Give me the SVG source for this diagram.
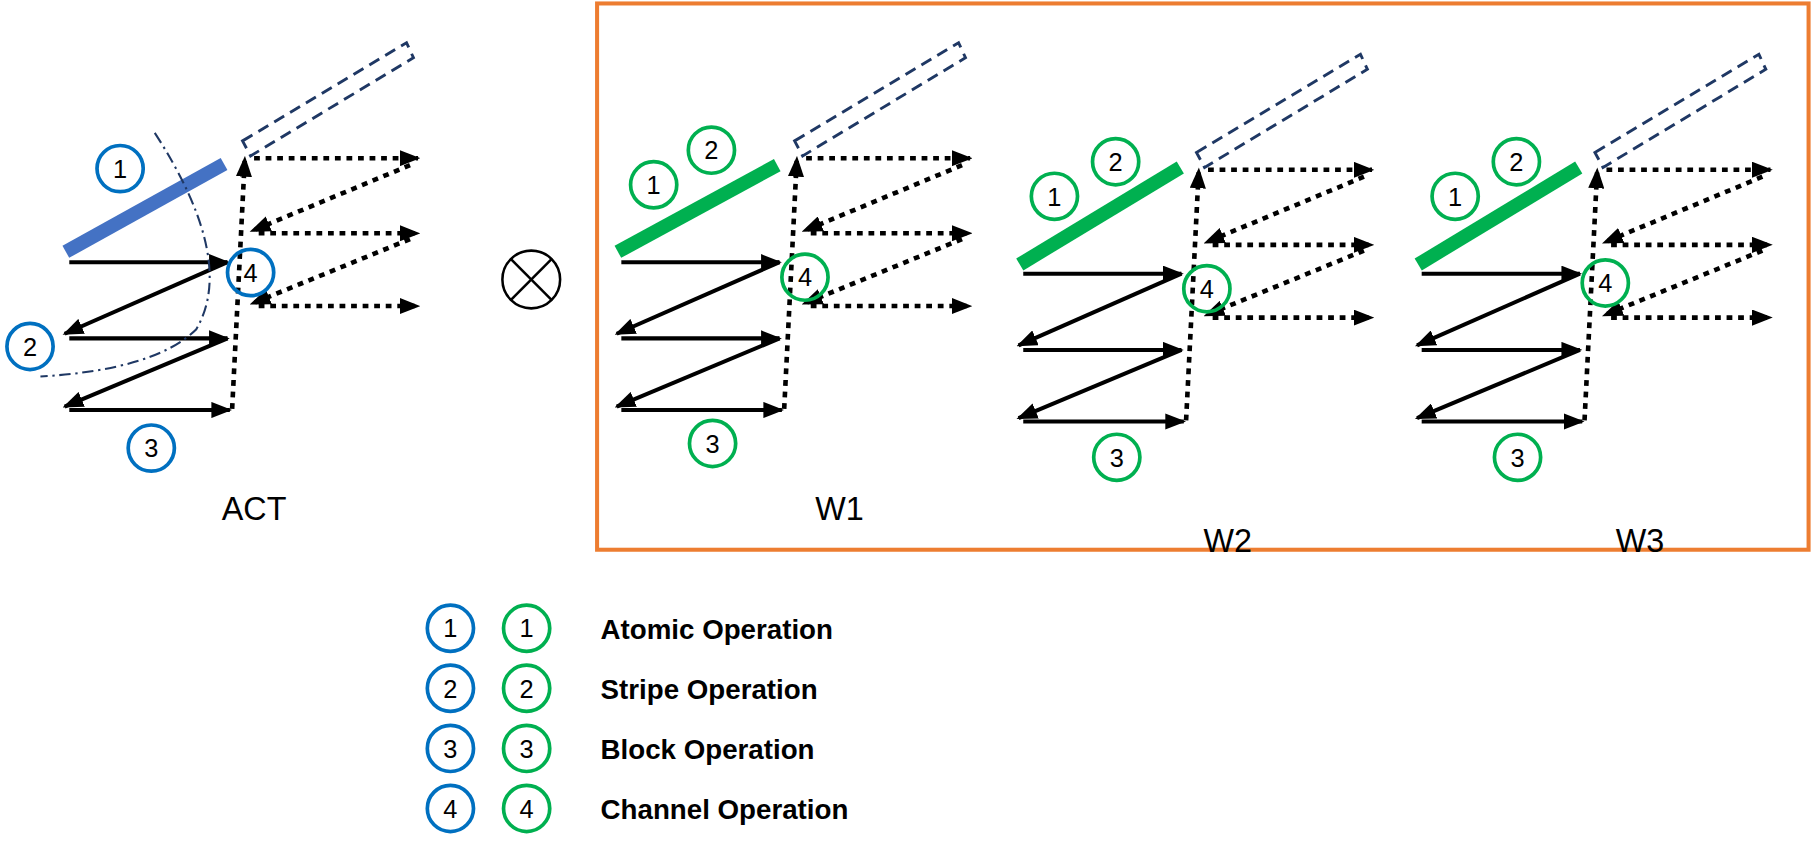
<svg xmlns="http://www.w3.org/2000/svg" xmlns:xlink="http://www.w3.org/1999/xlink" width="1812" height="856" viewBox="0 0 1812 856">
<style>
.solid{stroke:#000;stroke-width:3.5;fill:none}
.dot{stroke:#000;stroke-width:4;stroke-dasharray:5 5;fill:none}
.dash{stroke:#1F3864;stroke-width:2.5;stroke-dasharray:10 6;fill:none}
.cb{fill:none;stroke:#0070C0;stroke-width:3.2}
.cg{fill:none;stroke:#00B050;stroke-width:3.2}
.n{font-family:"Liberation Sans",Arial,sans-serif;font-size:22px;text-anchor:middle;fill:#000}
.lbl{font-family:"Liberation Sans",Arial,sans-serif;font-size:28px;text-anchor:middle;fill:#000}
.leg{font-family:"Liberation Sans",Arial,sans-serif;font-size:24px;font-weight:bold;fill:#000}
</style>
<defs>
<marker id="ah" markerUnits="userSpaceOnUse" markerWidth="18" markerHeight="14" refX="16" refY="7" orient="auto"><path d="M0,0 L18,7 L0,14 z" fill="#000"/></marker>
<g id="tpl">
<g class="connectors">
<path class="solid" marker-end="url(#ah)" d="M60,227 H197"/>
<path class="solid" marker-end="url(#ah)" d="M197,227 L56,289"/>
<path class="solid" marker-end="url(#ah)" d="M60,293 H197"/>
<path class="solid" marker-end="url(#ah)" d="M197,293 L56,352"/>
<path class="solid" marker-end="url(#ah)" d="M60,355 H199"/>
<path class="dot" marker-end="url(#ah)" d="M201,354 L212,137"/>
<path class="dot" marker-end="url(#ah)" d="M220,137 H362"/>
<path class="dot" marker-end="url(#ah)" d="M355,143 L218,200"/>
<path class="dot" marker-end="url(#ah)" d="M224,202 H362"/>
<path class="dot" marker-end="url(#ah)" d="M355,207 L218,263"/>
<path class="dot" marker-end="url(#ah)" d="M224,265 H362"/>
</g>
<polygon class="dash" points="210,122 352,37 358,50 217,135"/>
</g>
</defs>
<g transform="scale(1.1549)">
<rect x="517" y="3" width="1049" height="473" fill="none" stroke="#ED7D31" stroke-width="3.5"/>

<g id="act">
<use xlink:href="#tpl"/>
<line x1="57" y1="218" x2="194" y2="142" stroke="#4472C4" stroke-width="12"/>
<path d="M134,115 Q205,225 170,285 Q135,320 35,326" fill="none" stroke="#1F3864" stroke-width="1.8" stroke-dasharray="10 4 2 4"/>
<circle class="cb" cx="104" cy="146" r="20"/><text class="n" x="104" y="154">1</text>
<circle class="cb" cx="26" cy="300" r="20"/><text class="n" x="26" y="308">2</text>
<circle class="cb" cx="131" cy="388" r="20"/><text class="n" x="131" y="396">3</text>
<circle class="cb" cx="217" cy="236" r="20"/><text class="n" x="217" y="244">4</text>
<text class="lbl" x="220" y="450">ACT</text>
</g>

<g id="otimes" stroke="#000" stroke-width="2.2" fill="none">
<circle cx="460" cy="242" r="25"/>
<line x1="442" y1="224" x2="478" y2="260"/><line x1="478" y1="224" x2="442" y2="260"/>
</g>

<g id="w1">
<use xlink:href="#tpl" transform="translate(478,0)"/>
<line x1="535" y1="218" x2="673" y2="143" stroke="#00B050" stroke-width="12"/>
<circle class="cg" cx="566" cy="160" r="20"/><text class="n" x="566" y="168">1</text>
<circle class="cg" cx="616" cy="130" r="20"/><text class="n" x="616" y="138">2</text>
<circle class="cg" cx="617" cy="384" r="20"/><text class="n" x="617" y="392">3</text>
<circle class="cg" cx="697" cy="240" r="20"/><text class="n" x="697" y="248">4</text>
<text class="lbl" x="727" y="450">W1</text>
</g>

<g id="w2">
<use xlink:href="#tpl" transform="translate(826,10)"/>
<line x1="883" y1="229" x2="1022" y2="145" stroke="#00B050" stroke-width="12"/>
<circle class="cg" cx="913" cy="170" r="20"/><text class="n" x="913" y="178">1</text>
<circle class="cg" cx="966" cy="140" r="20"/><text class="n" x="966" y="148">2</text>
<circle class="cg" cx="967" cy="396" r="20"/><text class="n" x="967" y="404">3</text>
<circle class="cg" cx="1045" cy="250" r="20"/><text class="n" x="1045" y="258">4</text>
<text class="lbl" x="1063" y="478">W2</text>
</g>

<g id="w3">
<use xlink:href="#tpl" transform="translate(1171,10)"/>
<line x1="1228" y1="229" x2="1367" y2="145" stroke="#00B050" stroke-width="12"/>
<circle class="cg" cx="1260" cy="170" r="20"/><text class="n" x="1260" y="178">1</text>
<circle class="cg" cx="1313" cy="140" r="20"/><text class="n" x="1313" y="148">2</text>
<circle class="cg" cx="1314" cy="396" r="20"/><text class="n" x="1314" y="404">3</text>
<circle class="cg" cx="1390" cy="245" r="20"/><text class="n" x="1390" y="253">4</text>
<text class="lbl" x="1420" y="478">W3</text>
</g>

<g id="legend">
<circle class="cb" cx="390" cy="544" r="20"/><text class="n" x="390" y="552">1</text>
<circle class="cg" cx="456" cy="544" r="20"/><text class="n" x="456" y="552">1</text>
<text class="leg" x="520" y="553">Atomic Operation</text>
<circle class="cb" cx="390" cy="596" r="20"/><text class="n" x="390" y="604">2</text>
<circle class="cg" cx="456" cy="596" r="20"/><text class="n" x="456" y="604">2</text>
<text class="leg" x="520" y="605">Stripe Operation</text>
<circle class="cb" cx="390" cy="648" r="20"/><text class="n" x="390" y="656">3</text>
<circle class="cg" cx="456" cy="648" r="20"/><text class="n" x="456" y="656">3</text>
<text class="leg" x="520" y="657">Block Operation</text>
<circle class="cb" cx="390" cy="700" r="20"/><text class="n" x="390" y="708">4</text>
<circle class="cg" cx="456" cy="700" r="20"/><text class="n" x="456" y="708">4</text>
<text class="leg" x="520" y="709">Channel Operation</text>
</g>
</g>
</svg>
